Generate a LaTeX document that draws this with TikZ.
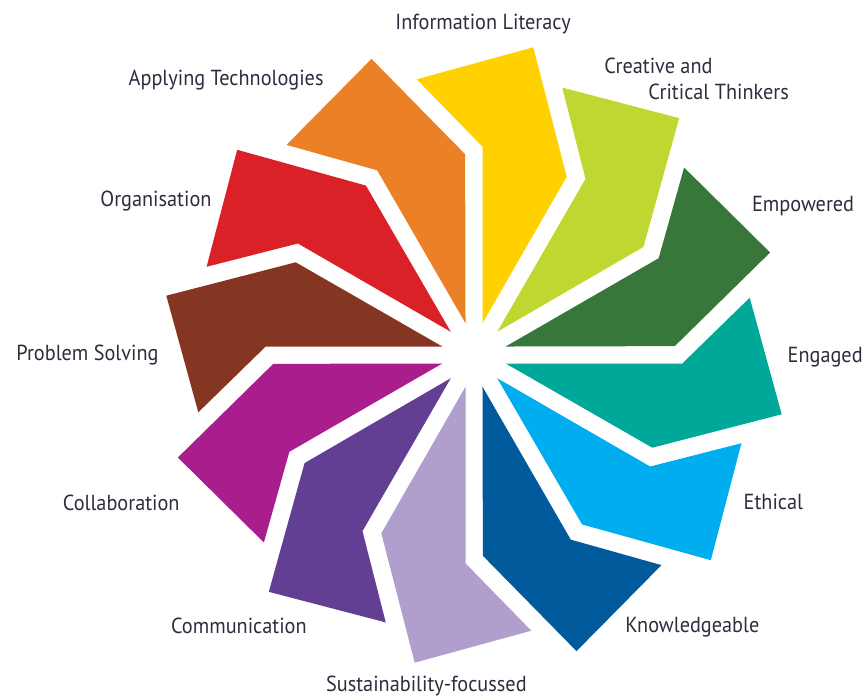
\documentclass[tikz,border=0pt]{standalone}
\usepackage{fontspec}
\usepackage{tikz}
\usetikzlibrary{positioning}
\newfontfamily\labelfont[FakeStretch=0.93]{PT Sans}
\definecolor{clrText}{RGB}{45,45,62}
\definecolor{clrInfo}{RGB}{255,209,0}
\definecolor{clrCreative}{RGB}{191,215,48}
\definecolor{clrEmpowered}{RGB}{55,120,58}
\definecolor{clrEngaged}{RGB}{0,168,154}
\definecolor{clrEthical}{RGB}{0,174,239}
\definecolor{clrKnow}{RGB}{0,90,156}
\definecolor{clrSustain}{RGB}{176,159,204}
\definecolor{clrComm}{RGB}{99,63,148}
\definecolor{clrCollab}{RGB}{169,30,140}
\definecolor{clrProblem}{RGB}{133,54,34}
\definecolor{clrOrga}{RGB}{218,33,40}
\definecolor{clrApply}{RGB}{235,128,38}
\tikzstyle{label_style}=[inner sep=0pt, anchor=base west, text=clrText,
font=\labelfont\fontsize{10.9}{12.85}\selectfont]
% one petal of the wheel, turned about the centre (C)
\newcommand{\petal}[2]{%
\fill[#2, rotate around={#1:(C)}] (482.5,323.3) -- (482.5,146.7) -- (416.7,79.3)
-- (533.3,47.3) -- (566.7,176.7) -- cycle ;}

\begin{document}
\begin{tikzpicture}[x=0.5pt, y=-0.5pt]
		\useasboundingbox (0,0) rectangle (862,697) ;
		\coordinate (C) at (474,355) ;

		\petal{0}{clrInfo}
		\petal{-30}{clrCreative}
		\petal{-60}{clrEmpowered}
		\petal{-90}{clrEngaged}
		\petal{-120}{clrEthical}
		\petal{-150}{clrKnow}
		\petal{-180}{clrSustain}
		\petal{-210}{clrComm}
		\petal{-240}{clrCollab}
		\petal{-270}{clrProblem}
		\petal{-300}{clrOrga}
		\petal{-330}{clrApply}

		\node[label_style] (info) at (395,29.3) {Information Literacy} ;
		\node[label_style, align=left] (creative) at (604,99) {Creative and\\\hspace*{22pt}Critical Thinkers} ;
		\node[label_style] (empowered) at (751.7,211.7) {Empowered} ;
		\node[label_style] (engaged) at (787.3,362.7) {Engaged} ;
		\node[label_style] (ethical) at (743.3,509.3) {Ethical} ;
		\node[label_style] (know) at (625,632.7) {Knowledgeable} ;
		\node[label_style] (sustain) at (325.7,691.7) {Sustainability-focussed} ;
		\node[label_style] (comm) at (170.7,633.3) {Communication} ;
		\node[label_style] (collab) at (62.5,510) {Collaboration} ;
		\node[label_style] (problem) at (16,360) {Problem Solving} ;
		\node[label_style] (orga) at (100,206.7) {Organisation} ;
		\node[label_style] (apply) at (128.3,85) {Applying Technologies} ;

	\end{tikzpicture}
\end{document}
